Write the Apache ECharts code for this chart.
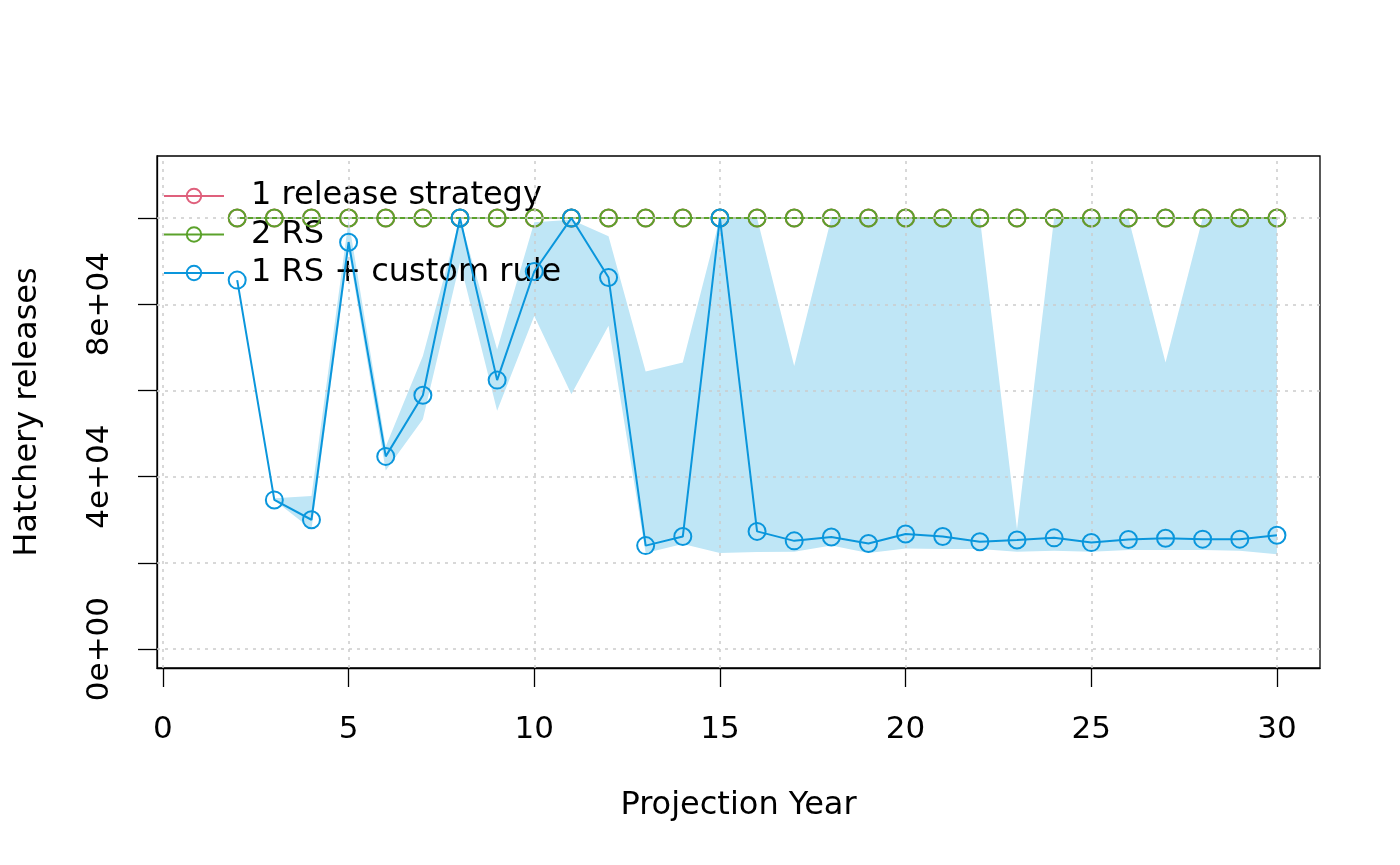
<!DOCTYPE html>
<html>
<head>
<meta charset="utf-8">
<script src="https://cdn.jsdelivr.net/npm/echarts@6/dist/echarts.min.js"></script>
<style>
html,body{margin:0;padding:0;background:#fff;}
#chart{width:1400px;height:865px;}
</style>
</head>
<body>
<div id="chart"></div>
<script>
// ---- data ----
var years = [2,3,4,5,6,7,8,9,10,11,12,13,14,15,16,17,18,19,20,21,22,23,24,25,26,27,28,29,30];
var releaseStrategy1 = [100000,100000,100000,100000,100000,100000,100000,100000,100000,100000,100000,100000,100000,100000,100000,100000,100000,100000,100000,100000,100000,100000,100000,100000,100000,100000,100000,100000,100000];
var rs2 = [100000,100000,100000,100000,100000,100000,100000,100000,100000,100000,100000,100000,100000,100000,100000,100000,100000,100000,100000,100000,100000,100000,100000,100000,100000,100000,100000,100000,100000];
var rsCustom = [85600,34600,30000,94400,44700,58900,100000,62400,87600,100000,86200,24000,26100,100000,27300,25100,26000,24500,26700,26100,24900,25300,25800,24700,25400,25700,25500,25500,26400];
var customLower = [85600,34500,27800,92500,41400,53300,89700,55300,77300,59100,75000,22300,24400,22300,22500,22600,24000,22300,23300,23200,23200,22600,22800,22600,23000,23000,23000,22800,22000];
var customUpper = [85600,35000,35500,99500,47000,68000,100000,69500,99000,99600,95800,64400,66500,100000,100000,65700,100000,100000,100000,100000,100000,27800,100000,100000,100000,66500,100000,100000,100000];
var xTicks = [0,5,10,15,20,25,30];
var yTicks = [0,20000,40000,60000,80000,100000];
var yLabelValues = [0,40000,80000];
var yLabelTexts = ['0e+00','4e+04','8e+04'];
var seriesNames = ['1 release strategy','2 RS','1 RS + custom rule'];

// ---- chart ----
var FONT = 'DejaVu Sans';
var colPink = '#DF607C', colGreen = '#5BA22B', colBlue = '#0A96DC', colBand = '#BFE6F6';

function pairs(xs, ys){ return xs.map(function(x,i){ return [x, ys[i]]; }); }

function lineSeries(name, vals, color, z){
  return {
    name: name, type: 'line', data: pairs(years, vals), z: z,
    symbol: 'circle', symbolSize: 17,
    itemStyle: {color: 'rgba(0,0,0,0)', borderColor: color, borderWidth: 2},
    lineStyle: {color: color, width: 2},
    emphasis: {disabled: true}, animation: false
  };
}

var gridLineStyle = {color: '#cccccc', type: [3,5], width: 1.5};
var markData = xTicks.map(function(v){ return {xAxis: v}; })
  .concat(yTicks.map(function(v){ return {yAxis: v}; }));

var bandSeries = {
  name: 'band', type: 'custom', z: 1, silent: true,
  data: [[years[0], customLower[0]]],
  encode: {x: 0, y: 1},
  renderItem: function(params, api){
    var pts = [];
    for (var i = 0; i < years.length; i++) pts.push(api.coord([years[i], customUpper[i]]));
    for (var j = years.length - 1; j >= 0; j--) pts.push(api.coord([years[j], customLower[j]]));
    return {type: 'polygon', shape: {points: pts}, style: {fill: colBand, stroke: null}};
  }
};

var option = {
  animation: false,
  textStyle: {fontFamily: FONT},
  grid: {left: 157, top: 156, right: 80, bottom: 197, show: true, borderColor: '#000', borderWidth: 1.3, backgroundColor: 'transparent'},
  legend: {
    left: 158, top: 175, orient: 'vertical', itemWidth: 60, itemHeight: 18, itemGap: 6.5,
    data: seriesNames,
    textStyle: {fontFamily: FONT, fontSize: 32, color: '#000', lineHeight: 32, padding: [0,0,0,22]},
    selectedMode: false
  },
  xAxis: {
    type: 'value', min: -0.16, max: 31.16,
    name: 'Projection Year', nameLocation: 'middle', nameGap: 122,
    nameTextStyle: {fontFamily: FONT, fontSize: 32, color: '#000'},
    axisLine: {show: true, onZero: false, lineStyle: {color: '#000', width: 1.3}},
    axisTick: {show: true, inside: false, customValues: xTicks, length: 19, lineStyle: {color: '#000', width: 1.3}},
    axisLabel: {customValues: xTicks, fontFamily: FONT, fontSize: 31, color: '#000', margin: 46},
    splitLine: {show: false}
  },
  yAxis: {
    type: 'value', min: -4400, max: 114400,
    name: 'Hatchery releases', nameLocation: 'middle', nameGap: 113,
    nameTextStyle: {fontFamily: FONT, fontSize: 32, color: '#000'},
    axisLine: {show: true, onZero: false, lineStyle: {color: '#000', width: 1.3}},
    axisTick: {show: true, inside: false, customValues: yTicks, length: 19, lineStyle: {color: '#000', width: 1.3}},
    axisLabel: {customValues: yLabelValues, rotate: 90, fontFamily: FONT, fontSize: 31, color: '#000', margin: 42,
      formatter: function(v){ var i = yLabelValues.indexOf(v); return i >= 0 ? yLabelTexts[i] : ''; }},
    splitLine: {show: false}
  },
  series: [
    bandSeries,
    {name: 'grid', type: 'line', data: [], z: 2, silent: true,
      markLine: {silent: true, symbol: 'none', label: {show: false}, lineStyle: gridLineStyle, data: markData, animation: false}},
    lineSeries(seriesNames[0], releaseStrategy1, colPink, 3),
    lineSeries(seriesNames[1], rs2, colGreen, 4),
    lineSeries(seriesNames[2], rsCustom, colBlue, 5)
  ]
};
var chart = echarts.init(document.getElementById('chart'), null, {renderer: 'canvas'});
chart.setOption(option);
</script>
</body>
</html>
